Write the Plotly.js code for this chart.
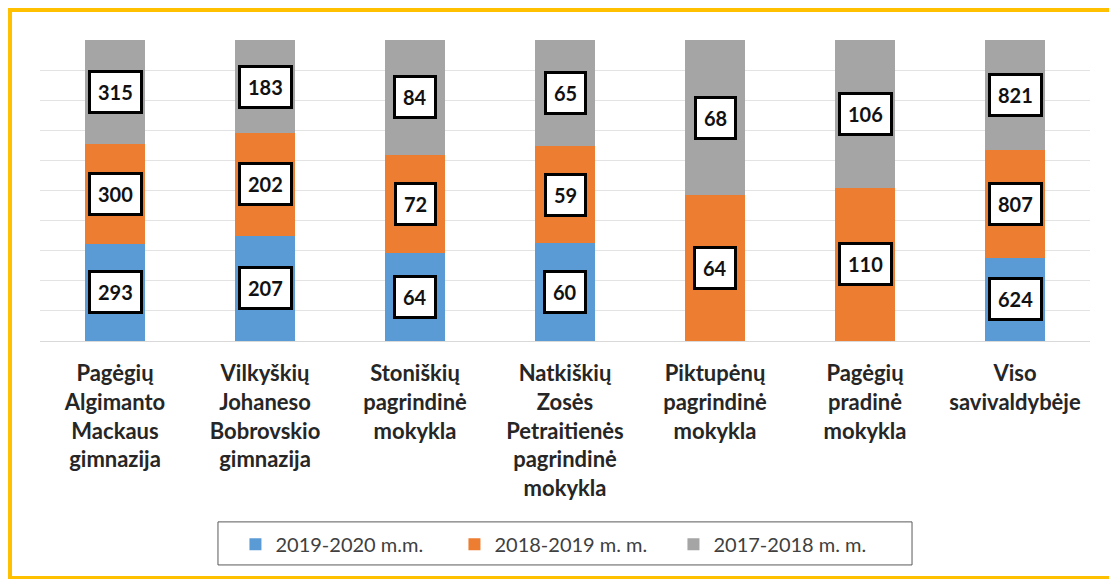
<!DOCTYPE html>
<html>
<head>
<meta charset="utf-8">
<script src="https://cdn.plot.ly/plotly-3.0.1.min.js"></script>
<style>
	html, body { margin: 0; padding: 0; background: #ffffff; }
	#plotContainer { position: absolute; left: 0; top: 0; width: 1109px; height: 579px; }
	#frame { position: absolute; left: 8px; top: 8px; width: 1110px; height: 564px; border: 4px solid #FFC000; pointer-events: none; }
</style>
</head>
<body>
<div id="plotContainer"></div>
<div id="frame"></div>
<script>

const schools = [
	'Pagėgių<br>Algimanto<br>Mackaus<br>gimnazija',
	'Vilkyškių<br>Johaneso<br>Bobrovskio<br>gimnazija',
	'Stoniškių<br>pagrindinė<br>mokykla',
	'Natkiškių<br>Zosės<br>Petraitienės<br>pagrindinė<br>mokykla',
	'Piktupėnų<br>pagrindinė<br>mokykla',
	'Pagėgių<br>pradinė<br>mokykla',
	'Viso<br>savivaldybėje'
];

const seriesNames = [ '2019-2020 m.m.', '2018-2019 m. m.', '2017-2018 m. m.' ];
const seriesColors = [ '#5B9BD5', '#ED7D31', '#A5A5A5' ];

const y2019 = [ 293, 207, 64, 60, 0, 0, 624 ];
const y2018 = [ 300, 202, 72, 59, 64, 110, 807 ];
const y2017 = [ 315, 183, 84, 65, 68, 106, 821 ];

const series = [ y2019, y2018, y2017 ];

/**
 * Builds boxed value labels centred in each stacked segment (percent scale).
 */
function createBoxLabels() {

	let annotations = [ ];

	for ( let i = 0; i < schools.length; i++ ) {

		const total = y2019[ i ] + y2018[ i ] + y2017[ i ];
		let base = 0;

		for ( let s = 0; s < series.length; s++ ) {

			const value = series[ s ][ i ];
			const share = value / total * 100;

			if ( value > 0 ) {

				annotations.push( {
					x: schools[ i ],
					y: base + share / 2,
					xref: 'x',
					yref: 'y',
					text: String( value ),
					showarrow: false,
					font: { family: 'Lato, sans-serif', size: 20, color: '#111111', weight: 'bold' },
					bgcolor: '#ffffff',
					bordercolor: '#000000',
					borderwidth: 3,
					borderpad: 7
				} );
			}

			base += share;
		}
	}

	return annotations;
}

let data = [ ];

for ( let s = 0; s < series.length; s++ ) {

	data.push( {
		x: schools,
		y: series[ s ],
		name: seriesNames[ s ],
		type: 'bar',
		marker: { color: seriesColors[ s ] },
		hoverinfo: 'skip'
	} );
}

const layout = {
	width: 1109,
	height: 579,
	margin: { l: 40, r: 19, t: 40, b: 238 },
	paper_bgcolor: '#ffffff',
	plot_bgcolor: '#ffffff',
	barmode: 'stack',
	barnorm: 'percent',
	bargap: 0.6,
	showlegend: true,
	legend: {
		orientation: 'h',
		traceorder: 'normal',
		x: 0.499,
		xanchor: 'center',
		y: -0.675,
		yanchor: 'middle',
		entrywidth: 174,
		borderwidth: 0,
		bgcolor: 'rgba(0,0,0,0)',
		font: { family: 'Lato, sans-serif', size: 20, color: '#404040' }
	},
	// frame around the legend, a little wider than the legend itself
	shapes: [ {
		type: 'rect',
		xref: 'paper',
		yref: 'paper',
		x0: 0.1695,
		x1: 0.8305,
		y0: -0.601,
		y1: -0.744,
		line: { color: '#595959', width: 1 },
		layer: 'below'
	} ],
	xaxis: {
		tickfont: { family: 'Lato, sans-serif', size: 22, color: '#262626', weight: 'bold' },
		tickangle: 0,
		ticklabelstandoff: 13,
		showline: true,
		linecolor: '#D9D9D9',
		linewidth: 1,
		ticks: ''
	},
	yaxis: {
		range: [ 0, 100 ],
		dtick: 10,
		showticklabels: false,
		gridcolor: '#E3E3E3',
		gridwidth: 1,
		zeroline: false
	},
	annotations: createBoxLabels()
};

Plotly.newPlot( 'plotContainer', data, layout, { displayModeBar: false, staticPlot: true } );

</script>
</body>
</html>
